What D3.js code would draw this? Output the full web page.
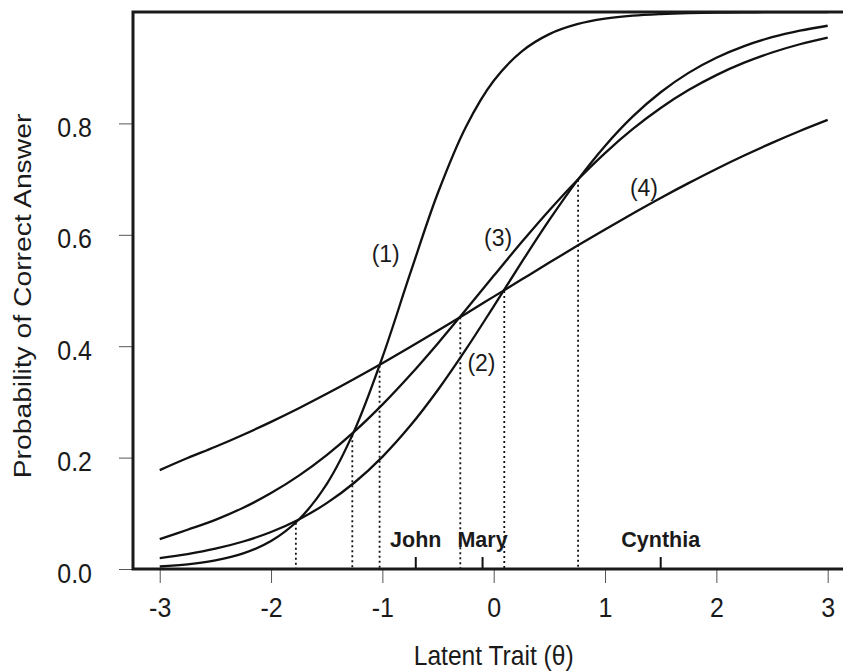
<!DOCTYPE html>
<html>
<head>
<meta charset="utf-8">
<script src="https://cdn.jsdelivr.net/npm/d3@7"></script>
<style>
    body { margin: 0; background: #fff; }
    text { font-family: "Liberation Sans", Arial, Helvetica, sans-serif; fill: #1a1a1a; }
</style>
</head>
<body>
<svg id="drawing" width="843" height="671"></svg>
<script>
// theta grid shared by every curve
const theta = [-3, -2.75, -2.5, -2.25, -2, -1.75, -1.5, -1.25, -1, -0.75, -0.5, -0.25,
    0, 0.25, 0.5, 0.75, 1, 1.25, 1.5, 1.75, 2, 2.25, 2.5, 2.75, 3]

// probability of a correct answer
const item1 = [0.0045, 0.0083, 0.0153, 0.0279, 0.0502, 0.0889, 0.1525, 0.2493, 0.3799, 0.5306, 0.6759, 0.7937,
    0.8765, 0.929, 0.9603, 0.9781, 0.988, 0.9935, 0.9964, 0.9981, 0.999, 0.9994, 0.9997, 0.9998, 0.9999]
const item2 = [0.0197, 0.0269, 0.0365, 0.0494, 0.0665, 0.089, 0.1182, 0.1553, 0.2014, 0.257, 0.3218, 0.3942,
    0.4716, 0.5504, 0.6267, 0.6972, 0.7595, 0.8125, 0.8559, 0.8907, 0.9179, 0.9388, 0.9547, 0.9665, 0.9753]
const item3 = [0.0535, 0.0705, 0.0883, 0.11, 0.1363, 0.1676, 0.2045, 0.247, 0.2951, 0.3483, 0.4055, 0.4654,
    0.5263, 0.5865, 0.6441, 0.698, 0.7468, 0.7901, 0.8277, 0.8598, 0.8867, 0.909, 0.9273, 0.9421, 0.9541]
const item4 = [0.1775, 0.1992, 0.2194, 0.2411, 0.2642, 0.2887, 0.3145, 0.3415, 0.3695, 0.3985, 0.4282, 0.4584,
    0.489, 0.5196, 0.5501, 0.5802, 0.6097, 0.6384, 0.6662, 0.6928, 0.7183, 0.7424, 0.7651, 0.7864, 0.8063]

// curve labels
const itemLabels = ["(1)", "(2)", "(3)", "(4)"]
const labelTheta = [-0.97, -0.11, 0.04, 1.35]
const labelProb = [0.566, 0.37, 0.594, 0.685]

// crossing points dropped to the axis
const crossTheta = [-1.777, -1.27, -1.025, -0.3, 0.095, 0.758]
const crossProb = [0.083, 0.24, 0.365, 0.452, 0.499, 0.699]

// persons placed on the trait scale
const persons = ["John", "Mary", "Cynthia"]
const personTheta = [-0.7, -0.1, 1.5]

const xTicks = [-3, -2, -1, 0, 1, 2, 3]
const yTicks = [0, 0.2, 0.4, 0.6, 0.8]

const margin = { top: 12, left: 133, bottom: 102 }
const width = 843
const height = 671

const x = d3.scaleLinear()
    .domain([-3.24, 3.24])
    .range([margin.left, 854.4])

const y = d3.scaleLinear()
    .domain([0, 1])
    .range([height - margin.bottom, margin.top])

const line = d3.line()
    .curve(d3.curveCatmullRom)
    .x(d => x(d.t))
    .y(d => y(d.p))

// the source type is a bit taller than it is wide
const xAxis = g => g
    .attr("transform", `translate(0,${y(0)})`)
    .call(d3.axisBottom(x).tickValues(xTicks).tickFormat(d => String(d)).tickSize(14))
    .call(g => g.select(".domain").remove())
    .call(g => g.selectAll(".tick line").attr("stroke", "#555").attr("stroke-width", 1))
    .call(g => g.selectAll(".tick text")
        .attr("y", null).attr("dy", null)
        .attr("transform", "translate(0,48) scale(1,1.1)")
        .attr("font-size", 25).attr("fill", "#1a1a1a"))

const yAxis = g => g
    .attr("transform", `translate(${margin.left},0)`)
    .call(d3.axisLeft(y).tickValues(yTicks).tickFormat(d3.format(".1f")).tickSize(14))
    .call(g => g.select(".domain").remove())
    .call(g => g.selectAll(".tick line").attr("stroke", "#555").attr("stroke-width", 1))
    .call(g => g.selectAll(".tick text")
        .attr("x", null).attr("dy", null)
        .attr("transform", "translate(-41,13) scale(1,1.1)")
        .attr("font-size", 25).attr("fill", "#1a1a1a"))

const svg = d3.select("#drawing")

svg.append("g").call(xAxis)
svg.append("g").call(yAxis)

// dotted drops from the crossings
svg.append("g")
    .selectAll("line")
    .data(crossTheta)
    .join("line")
    .attr("x1", d => x(d))
    .attr("x2", d => x(d))
    .attr("y1", (d, i) => y(crossProb[i]))
    .attr("y2", y(0))
    .attr("stroke", "#111")
    .attr("stroke-width", 1.8)
    .attr("stroke-dasharray", "2,3")

// item curves
const items = [item1, item2, item3, item4]
svg.append("g")
    .selectAll("path")
    .data(items.map(ps => ps.map((p, i) => ({ t: theta[i], p: p }))))
    .join("path")
    .attr("d", line)
    .attr("fill", "none")
    .attr("stroke", "#111")
    .attr("stroke-width", 2.3)

svg.append("g")
    .selectAll("text")
    .data(itemLabels)
    .join("text")
    .attr("x", (d, i) => x(labelTheta[i]))
    .attr("y", (d, i) => y(labelProb[i]))
    .attr("dy", "0.35em")
    .attr("text-anchor", "middle")
    .attr("font-size", 23)
    .text(d => d)

// persons: short tick plus bold name
const who = svg.append("g")
who.selectAll("line")
    .data(personTheta)
    .join("line")
    .attr("x1", d => x(d))
    .attr("x2", d => x(d))
    .attr("y1", y(0))
    .attr("y2", y(0) - 12)
    .attr("stroke", "#111")
    .attr("stroke-width", 2)
who.selectAll("text")
    .data(persons)
    .join("text")
    .attr("x", (d, i) => x(personTheta[i]))
    .attr("y", y(0) - 22)
    .attr("text-anchor", "middle")
    .attr("font-size", 21.5)
    .attr("font-weight", "bold")
    .text(d => d)

// box: left, top and bottom (right side falls off the page)
svg.append("path")
    .attr("d", `M${width + 5},${margin.top}H${margin.left}V${y(0)}H${width + 5}`)
    .attr("fill", "none")
    .attr("stroke", "#1a1a1a")
    .attr("stroke-width", 3)

svg.append("text")
    .attr("transform", `translate(${x(0)},665) scale(1,1.15)`)
    .attr("text-anchor", "middle")
    .attr("font-size", 24.6)
    .text("Latent Trait (θ)")

svg.append("text")
    .attr("transform", "translate(31,296) scale(1,1.15) rotate(-90)")
    .attr("text-anchor", "middle")
    .attr("font-size", 24.6)
    .text("Probability of Correct Answer")
</script>
</body>
</html>
